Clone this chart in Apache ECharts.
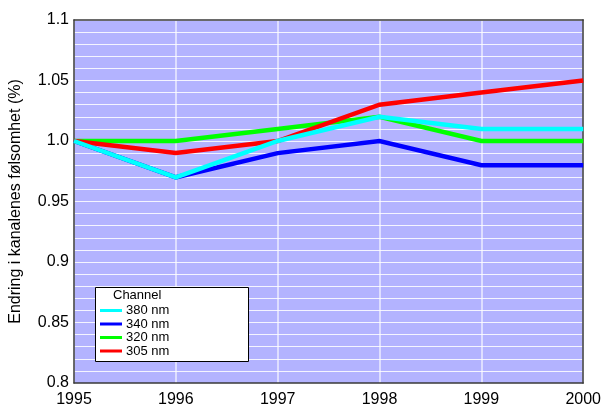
<!DOCTYPE html>
<html>
<head>
<meta charset="utf-8">
<script src="https://cdn.jsdelivr.net/npm/echarts@6/dist/echarts.min.js"></script>
<style>
  html, body { margin: 0; padding: 0; background: #ffffff; }
  #chart { width: 604px; height: 408px; }
</style>
</head>
<body>
<div id="chart"></div>
<script>
// Relative channel sensitivity per year
const years = [1995, 1996, 1997, 1998, 1999, 2000];
const ch380 = [1.00, 0.97, 1.00, 1.02, 1.01, 1.01];
const ch340 = [1.00, 0.97, 0.99, 1.00, 0.98, 0.98];
const ch320 = [1.00, 1.00, 1.01, 1.02, 1.00, 1.00];
const ch305 = [1.00, 0.99, 1.00, 1.03, 1.04, 1.05];
const channelNames = ['380 nm', '340 nm', '320 nm', '305 nm'];
const yTicks = [0.8, 0.85, 0.9, 0.95, 1.0, 1.05, 1.1];
const yTickLabels = ['0.8', '0.85', '0.9', '0.95', '1.0', '1.05', '1.1'];

const FONT = 'Liberation Sans, Arial, Helvetica, sans-serif';
const pairs = arr => years.map((y, i) => [y, arr[i]]);

const seriesDefs = [
  { name: channelNames[0], data: ch380, color: '#00ffff', z: 6 },
  { name: channelNames[1], data: ch340, color: '#0000ff', z: 3 },
  { name: channelNames[2], data: ch320, color: '#00ff00', z: 4 },
  { name: channelNames[3], data: ch305, color: '#ff0000', z: 5 }
];

const frameLine = { show: true, lineStyle: { color: '#3a3a3a', width: 1.5 } };
const hiddenParts = {
  axisTick: { show: false },
  axisLabel: { show: false },
  splitLine: { show: false }
};

const chart = echarts.init(document.getElementById('chart'), null, { renderer: 'canvas' });

chart.setOption({
  animation: false,
  textStyle: { fontFamily: FONT },
  grid: {
    left: 73, right: 19, top: 20, bottom: 25,
    show: true,
    backgroundColor: '#b3b3ff',
    borderWidth: 0
  },
  xAxis: [
    {
      type: 'value',
      min: 1995, max: 2000, interval: 1,
      axisLine: frameLine,
      axisTick: { show: false },
      axisLabel: { color: '#000', fontSize: 16, fontFamily: FONT, margin: 9,
        formatter: v => String(v) },
      splitLine: { show: true, lineStyle: { color: 'rgba(255,255,255,0.75)', width: 1.5 } }
    },
    Object.assign({ type: 'value', position: 'top', min: 1995, max: 2000, interval: 1,
      axisLine: frameLine }, hiddenParts)
  ],
  yAxis: [
    {
      type: 'value',
      min: 0.8, max: 1.1, interval: 0.05,
      name: 'Endring i kanalenes følsomhet (%)',
      nameLocation: 'middle',
      nameGap: 50,
      nameTextStyle: { color: '#000', fontSize: 16, fontFamily: FONT },
      axisLine: frameLine,
      axisTick: { show: false },
      axisLabel: { color: '#000', fontSize: 16, fontFamily: FONT, margin: 5,
        formatter: v => {
          const idx = yTicks.findIndex(t => Math.abs(t - v) < 1e-6);
          return idx >= 0 ? yTickLabels[idx] : '';
        } },
      splitLine: { show: true, lineStyle: { color: 'rgba(255,255,255,0.85)', width: 1.2 } },
      minorTick: { show: false, splitNumber: 5 },
      minorSplitLine: { show: true, lineStyle: { color: 'rgba(255,255,255,0.85)', width: 1.2 } }
    },
    Object.assign({ type: 'value', position: 'right', min: 0.8, max: 1.1, interval: 0.05,
      axisLine: frameLine }, hiddenParts)
  ],
  legend: {
    data: channelNames,
    orient: 'vertical',
    left: 100, top: 304,
    padding: 0,
    itemGap: 0.5,
    itemWidth: 22,
    itemHeight: 3,
    icon: 'rect',
    z: 100,
    textStyle: { color: '#000', fontSize: 13, fontFamily: FONT, padding: [0, 0, 0, -1] }
  },
  graphic: [
    {
      type: 'rect', z: 90,
      shape: { x: 95.5, y: 287.5, width: 153, height: 74 },
      style: { fill: '#ffffff', stroke: '#000000', lineWidth: 1 }
    },
    {
      type: 'text', z: 91,
      left: 113, top: 289,
      style: { text: 'Channel', fontSize: 13, fontFamily: FONT, fill: '#000' }
    }
  ],
  series: seriesDefs.map(s => ({
    name: s.name,
    type: 'line',
    data: pairs(s.data),
    z: s.z,
    symbol: 'none',
    color: s.color,
    lineStyle: { color: s.color, width: 4.5, join: 'miter' },
    emphasis: { disabled: true }
  }))
});
</script>
</body>
</html>
